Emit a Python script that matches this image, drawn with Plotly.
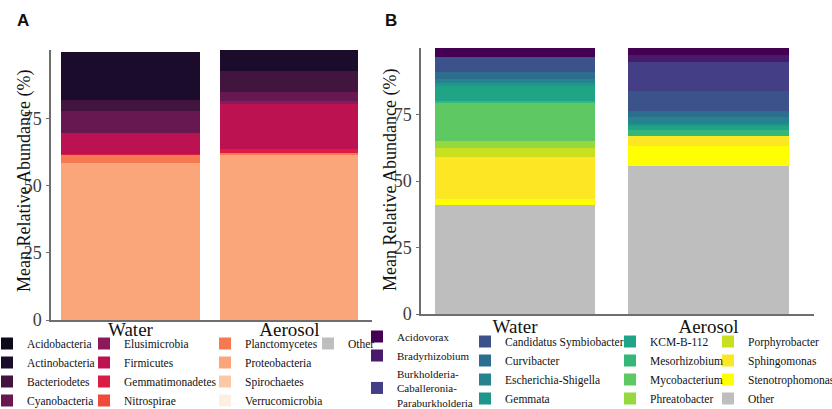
import plotly.graph_objects as go

W, H = 832, 409

samples = ["Water", "Aerosol"]
y_ticks = [0, 25, 50, 75]

# ---- Panel A: phyla ----
phyla = ["Acidobacteria", "Actinobacteria", "Bacteriodetes", "Cyanobacteria",
         "Elusimicrobia", "Firmicutes", "Gemmatimonadetes", "Nitrospirae",
         "Planctomycetes", "Proteobacteria", "Spirochaetes", "Verrucomicrobia", "Other"]
phyla_water = [0.0, 17.9, 4.1, 8.3, 0.0, 7.7, 0.4, 0.0, 3.1, 58.5, 0.0, 0.0, 0.0]
phyla_aerosol = [0.0, 7.7, 7.8, 3.7, 1.0, 16.8, 1.3, 0.0, 0.8, 61.6, 0.0, 0.0, 0.0]
phyla_colors = ["#0d0a1c", "#1b0c2b", "#42153f", "#681850", "#8c1a5b", "#bc1252",
                "#dc1c44", "#f04b3a", "#f67a51", "#faa67a", "#fbc8a8", "#fdf0e2", "#bebebe"]
phyla_cols = [1, 1, 1, 1, 2, 2, 2, 2, 3, 3, 3, 3, 4]

# ---- Panel B: genera ----
genera = ["Acidovorax", "Bradyrhizobium", "Burkholderia-<br>Caballeronia-<br>Paraburkholderia",
          "Candidatus Symbiobacter", "Curvibacter", "Escherichia-Shigella", "Gemmata",
          "KCM-B-112", "Mesorhizobium", "Mycobacterium", "Phreatobacter",
          "Porphyrobacter", "Sphingomonas", "Stenotrophomonas", "Other"]
genera_water = [3.2, 0.0, 0.0, 6.0, 2.5, 1.3, 1.4, 5.7, 0.3, 14.4, 2.7, 3.5, 15.9, 2.3, 40.8]
genera_aerosol = [2.7, 2.7, 10.7, 7.5, 2.3, 2.6, 1.0, 1.2, 2.5, 0.0, 0.0, 0.0, 3.8, 7.5, 55.5]
genera_colors = ["#440154", "#481a6c", "#433e85", "#3b528b", "#2c6e8e", "#25828e", "#1f968b",
                 "#20a486", "#35b779", "#5ec962", "#95d840", "#c8e020", "#fde725", "#ffff00", "#bebebe"]
genera_cols = [5, 5, 5, 6, 6, 6, 6, 7, 7, 7, 7, 8, 8, 8, 8]


def px_x(p):
    return p / W


def px_y(p):
    return (H - p) / H


fig = go.Figure()

# stacked: first trace at bottom, so add in reverse order
for i in reversed(range(len(phyla))):
    fig.add_trace(go.Bar(
        x=samples, y=[phyla_water[i], phyla_aerosol[i]], name=phyla[i],
        marker=dict(color=phyla_colors[i], line=dict(width=0)), width=0.87,
        xaxis="x", yaxis="y",
        legend="legend" if phyla_cols[i] == 1 else "legend%d" % phyla_cols[i],
        legendrank=i + 1, hoverinfo="name+y"))

for i in reversed(range(len(genera))):
    fig.add_trace(go.Bar(
        x=samples, y=[genera_water[i], genera_aerosol[i]], name=genera[i],
        marker=dict(color=genera_colors[i], line=dict(width=0)), width=0.83,
        xaxis="x2", yaxis="y2",
        legend="legend%d" % genera_cols[i],
        legendrank=i + 1, hoverinfo="name+y"))

serif = "Liberation Serif"
axis_line = "#6e6e6e"

common_y = dict(tickvals=y_ticks, ticks="outside", ticklen=3, tickcolor=axis_line,
                tickfont=dict(family=serif, size=18, color="#3d3d3d"),
                showline=True, linecolor=axis_line, linewidth=1.5, showgrid=False,
                zeroline=False, ticklabelstandoff=1)
common_x = dict(ticks="", tickfont=dict(family=serif, size=19, color="#111111"),
                showline=True, linecolor=axis_line, linewidth=1.5, showgrid=False,
                zeroline=False)

# x pixel where each legend column's text starts, and legend top pixel
legend_text_x = {1: 27, 2: 124, 3: 245, 4: 348, 5: 397, 6: 505, 7: 650, 8: 748}
legend_top_px = {1: 329, 2: 329, 3: 329, 4: 329, 5: 322, 6: 327, 7: 327, 8: 327}
legend_font = {5: 11}
legends = {}
for k, tx in legend_text_x.items():
    key = "legend" if k == 1 else "legend%d" % k
    legends[key] = dict(x=px_x(tx - 40), y=px_y(legend_top_px[k]), xanchor="left", yanchor="top",
                        orientation="v", traceorder="normal", bgcolor="rgba(0,0,0,0)",
                        font=dict(family=serif, size=legend_font.get(k, 11.5), color="#111111"),
                        itemclick=False, itemdoubleclick=False)

fig.update_layout(
    width=W, height=H, autosize=False,
    margin=dict(l=0, r=0, t=0, b=0, autoexpand=False),
    paper_bgcolor="white", plot_bgcolor="white",
    barmode="stack", showlegend=True,
    xaxis=dict(domain=[px_x(51), px_x(372)], range=[-0.5, 1.52], anchor="y",
               ticklabelstandoff=-9, **common_x),
    yaxis=dict(domain=[px_y(320), px_y(50)], range=[0, 100.7], anchor="x", **common_y),
    xaxis2=dict(domain=[px_x(421), px_x(814)], range=[-0.486, 1.545], anchor="y2",
                ticklabelstandoff=-6, **common_x),
    yaxis2=dict(domain=[px_y(314), px_y(48)], range=[0, 100], anchor="x2", **common_y),
    **legends,
)

ytitle = "Mean Relative Abundance (%)"
for xp, yp in [(24, 181), (390, 180)]:
    fig.add_annotation(text=ytitle, x=px_x(xp), y=px_y(yp), xref="paper", yref="paper",
                       textangle=-90, showarrow=False, xanchor="center", yanchor="middle",
                       font=dict(family=serif, size=18, color="#111111"))

for lab, xp, yp in [("A", 23, 21), ("B", 391, 20)]:
    fig.add_annotation(text="<b>%s</b>" % lab, x=px_x(xp), y=px_y(yp), xref="paper", yref="paper",
                       showarrow=False, xanchor="center", yanchor="middle",
                       font=dict(family="Liberation Sans", size=17, color="#111111"))

fig.write_html("out.html")
